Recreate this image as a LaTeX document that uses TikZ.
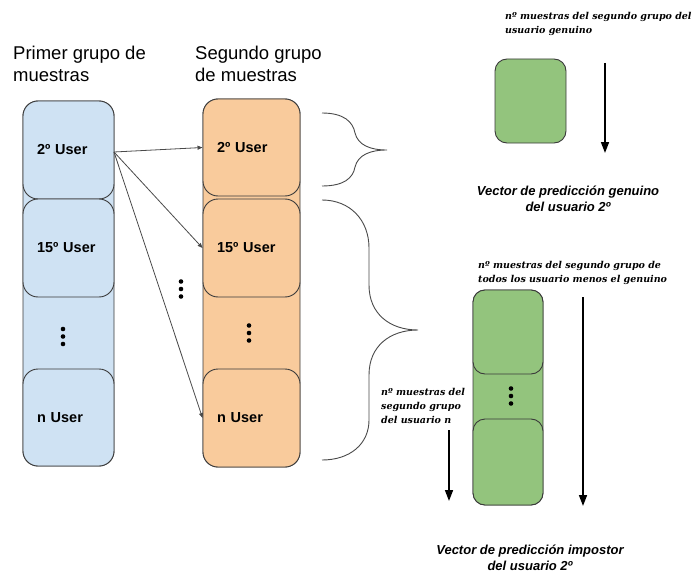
\documentclass[tikz,border=0pt]{standalone}
\usepackage{fontspec}
\setsansfont{Liberation Sans}
\newfontfamily\noteface{DejaVu Serif}
\usetikzlibrary{arrows.meta}

\definecolor{blueF}{HTML}{CFE2F3}
\definecolor{orangeF}{HTML}{F9CB9C}
\definecolor{greenF}{HTML}{93C47D}
\definecolor{edgeC}{HTML}{3A3A3A}
\definecolor{lineC}{HTML}{4A4A4A}

\tikzset{
  cell/.style={draw=edgeC, line width=0.9pt, rounded corners=15pt, inner sep=0pt,
               font=\sffamily\bfseries\fontsize{14.5}{17}\selectfont, align=left,
               inner xsep=14pt},
  bluecell/.style={cell, fill=blueF, text width=63pt, minimum width=91pt},
  orangecell/.style={cell, fill=orangeF, text width=69pt, minimum width=97pt},
  greencell/.style={draw=edgeC, line width=0.9pt, rounded corners=12pt, fill=greenF,
                    inner sep=0pt},
  % multi-line text: the base anchor sits on the last line
  header/.style={anchor=base west, align=left, inner sep=0pt,
                 font=\sffamily\fontsize{18.5}{22.5}\selectfont},
  note/.style={anchor=base west, align=left, inner sep=0pt,
               font=\noteface\bfseries\itshape\fontsize{9.5}{14}\selectfont},
  vectortitle/.style={anchor=base, align=center, inner sep=0pt,
               font=\sffamily\bfseries\itshape\fontsize{13}{15.5}\selectfont},
  link/.style={draw=lineC, line width=0.8pt, -{Triangle[length=5pt,width=4pt]}},
  flow/.style={draw=black, line width=1.6pt, -{Triangle[length=11pt,width=8pt]}},
  brace/.style={draw=lineC, line width=0.9pt},
  dot/.style={circle, fill=black, inner sep=0pt, minimum size=4.6pt},
}

\begin{document}
\begin{tikzpicture}[x=1pt, y=-1pt]
\useasboundingbox (0,0) rectangle (693,575);

% column headers
\node[header] (h1) at (13,82) {Primer grupo de\\muestras};
\node[header] (h2) at (195,82) {Segundo grupo\\de muestras};

% first group of samples
\draw[draw=edgeC, line width=0.9pt, rounded corners=15pt, fill=blueF] (23,101) rectangle (114,466);
\node[bluecell, minimum height=98pt] (b2)  at (68.5,150)   {2º User};
\node[bluecell, minimum height=98pt] (b15) at (68.5,248)   {15º User};
\node[bluecell, minimum height=97pt] (bn)  at (68.5,417.5) {n User};
\foreach \yy [count=\i] in {329,336.5,344} \node[dot] (bd\i) at (63,\yy) {};

% second group of samples
\draw[draw=edgeC, line width=0.9pt, rounded corners=15pt, fill=orangeF] (203,99) rectangle (300,467);
\node[orangecell, minimum height=97pt] (o2)  at (251.5,147.5) {2º User};
\node[orangecell, minimum height=98pt] (o15) at (251.5,248)   {15º User};
\node[orangecell, minimum height=98pt] (on)  at (251.5,418)   {n User};
\foreach \yy [count=\i] in {325.5,333,340.5} \node[dot] (od\i) at (249,\yy) {};

% links between the groups
\coordinate (src) at (114,152);
\draw[link] (src) -- (o2.west);
\draw[link] (src) -- (o15.west);
\draw[link] (src) -- (on.west);
\foreach \yy [count=\i] in {281.5,289,296.5} \node[dot] (md\i) at (181,\yy) {};

% braces
\draw[brace] (322,113) .. controls (344,113) and (353,122) .. (355,133)
             .. controls (358,145) and (370,150) .. (387,150)
             .. controls (370,150) and (358,155) .. (355,167)
             .. controls (353,178) and (344,186) .. (322,186);
\draw[brace] (322,200) .. controls (350,200) and (369,220) .. (369,248)
             -- (369,285)
             .. controls (369,314) and (390,330) .. (418,330)
             .. controls (390,330) and (369,346) .. (369,375)
             -- (369,420)
             .. controls (369,444) and (350,460) .. (322,460);

% genuine prediction vector
\node[note] (n1) at (505,34) {nº muestras del segundo grupo del\\usuario genuino};
\node[greencell, minimum width=71pt, minimum height=84pt] (g1) at (530.5,101) {};
\coordinate (a1s) at (605,63);
\coordinate (a1e) at (605,153);
\draw[flow] (a1s) -- (a1e);
\node[vectortitle] (v1) at (568,211) {Vector de predicción genuino\\del usuario 2º};

% impostor prediction vector
\node[note] (n2) at (478,282) {nº muestras del segundo grupo de\\todos los usuario menos el genuino};
\draw[draw=edgeC, line width=0.9pt, rounded corners=12pt, fill=greenF] (473,290) rectangle (543,505);
\node[greencell, minimum width=70pt, minimum height=84pt] (g2) at (508,332) {};
\node[greencell, minimum width=70pt, minimum height=86pt] (g3) at (508,462) {};
\foreach \yy [count=\i] in {388.5,396,403.5} \node[dot] (gd\i) at (511,\yy) {};
\coordinate (a2s) at (583,297);
\coordinate (a2e) at (583,506);
\draw[flow] (a2s) -- (a2e);

\node[note] (n3) at (381,423) {nº muestras del\\segundo grupo\\del usuario n};
\coordinate (a3s) at (449,430);
\coordinate (a3e) at (449,501);
\draw[flow] (a3s) -- (a3e);

\node[vectortitle] (v2) at (530,570) {Vector de predicción impostor\\del usuario 2º};
\end{tikzpicture}
\end{document}
